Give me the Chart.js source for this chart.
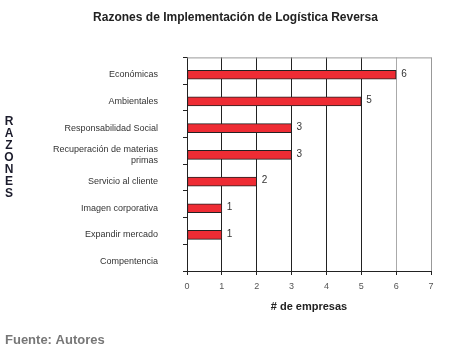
<!DOCTYPE html>
<html>
<head>
<meta charset="utf-8">
<script src="https://cdn.jsdelivr.net/npm/chart.js@4"></script>
<style>
  html, body { margin: 0; padding: 0; background: #fff; }
  #wrap { width: 450px; height: 351px; }
</style>
</head>
<body>
<div id="wrap"><canvas id="razonesChart"></canvas></div>
<script>
// RAZONES CHART
const razones = ['Económicas', 'Ambientales', 'Responsabilidad Social',
  ['Recuperación de materias', 'primas'], 'Servicio al cliente',
  'Imagen corporativa', 'Expandir mercado', 'Compentencia'];
const empresas = [6, 5, 3, 3, 2, 1, 1, 0];
const xTicks = [0, 1, 2, 3, 4, 5, 6, 7];

const FONT = 'Liberation Sans';
const SHIFT = 4; // bars and labels sit a bit below the band centre in the original

// push the bars slightly down inside their bands
const barShift = {
  id: 'barShift',
  beforeDatasetsDraw(chart) {
    chart.ctx.save();
    chart.ctx.translate(0, SHIFT);
  },
  afterDatasetsDraw(chart) {
    chart.ctx.restore();
  }
};

// value labels next to each bar
const valueLabels = {
  id: 'valueLabels',
  afterDatasetsDraw(chart) {
    const ctx = chart.ctx;
    const meta = chart.getDatasetMeta(0);
    ctx.save();
    ctx.font = '10px "' + FONT + '"';
    ctx.fillStyle = '#333';
    ctx.textBaseline = 'middle';
    meta.data.forEach((bar, i) => {
      if (!empresas[i]) return;
      ctx.fillText(String(empresas[i]), bar.x + 5, bar.y + SHIFT - 1);
    });
    ctx.restore();
  }
};

// top/right frame, vertical "RAZONES" and source note
const extras = {
  id: 'extras',
  afterDraw(chart) {
    const ctx = chart.ctx;
    const a = chart.chartArea;
    ctx.save();
    ctx.strokeStyle = '#999';
    ctx.lineWidth = 1;
    ctx.beginPath();
    ctx.moveTo(a.left, a.top + 0.5);
    ctx.lineTo(a.right + 0.5, a.top + 0.5);
    ctx.lineTo(a.right + 0.5, a.bottom);
    ctx.stroke();

    ctx.fillStyle = '#1c1c2c';
    ctx.font = 'bold 12px "' + FONT + '"';
    ctx.textAlign = 'center';
    ctx.textBaseline = 'middle';
    'RAZONES'.split('').forEach((ch, i) => {
      ctx.fillText(ch, 9, 122 + i * 12);
    });

    ctx.fillStyle = '#777';
    ctx.font = 'bold 13px "' + FONT + '"';
    ctx.textAlign = 'left';
    ctx.fillText('Fuente: Autores', 5, 340);
    ctx.restore();
  }
};

const razonesCtx = document.getElementById('razonesChart').getContext('2d');
const razonesChart = new Chart(razonesCtx, {
  type: 'bar',
  data: {
    labels: razones,
    datasets: [{
      label: '# de empresas',
      data: empresas,
      backgroundColor: '#ee2c34',
      borderColor: '#222',
      borderWidth: 1,
      borderSkipped: false,
      barThickness: 9,
    }]
  },
  options: {
    indexAxis: 'y',
    responsive: true,
    maintainAspectRatio: false,
    animation: false,
    layout: { padding: { left: 40, right: 19, top: 0, bottom: 37 } },
    scales: {
      x: {
        min: 0,
        max: 7,
        afterBuildTicks: (scale) => { scale.ticks = xTicks.map(v => ({ value: v })); },
        ticks: { color: '#555', font: { family: FONT, size: 9 }, padding: 6 },
        grid: {
          color: (c) => (c.tick && c.tick.value >= 6 ? '#aaa' : '#222'),
          tickColor: '#222',
          tickLength: 4,
        },
        border: { color: '#222' },
        title: {
          display: true,
          text: '# de empresas',
          color: '#222',
          font: { family: FONT, size: 11, weight: 'bold' },
          padding: { top: 3, bottom: 0 },
        },
      },
      y: {
        afterFit: (scale) => { scale.width = 147; },
        ticks: { color: '#333', font: { family: FONT, size: 9 }, padding: 25, labelOffset: SHIFT },
        grid: { offset: true, drawOnChartArea: false, tickLength: 4, tickColor: '#222' },
        border: { color: '#222' },
      }
    },
    plugins: {
      legend: { display: false },
      tooltip: { enabled: false },
      title: {
        display: true,
        text: 'Razones de Implementación de Logística Reversa',
        color: '#222',
        font: { family: FONT, size: 12, weight: 'bold' },
        padding: { top: 10, bottom: 33 },
      }
    }
  },
  plugins: [barShift, valueLabels, extras]
});
</script>
</body>
</html>
